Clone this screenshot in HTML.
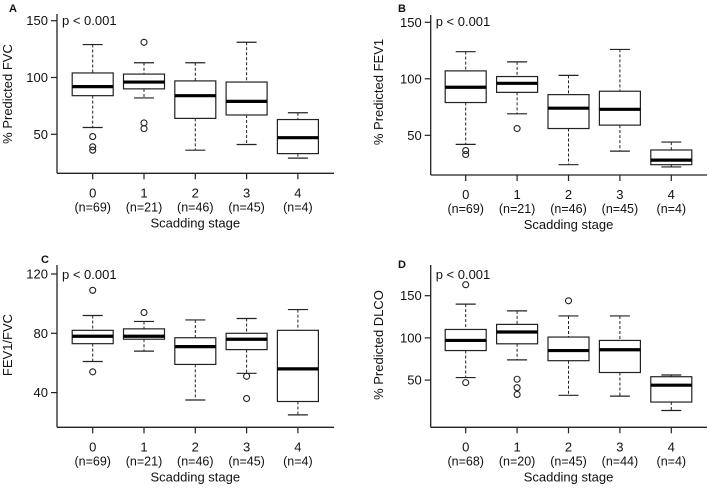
<!DOCTYPE html>
<html><head><meta charset="utf-8"><style>
html,body{margin:0;padding:0;background:#fff;width:709px;height:488px;overflow:hidden}
svg text{font-family:"Liberation Sans",Arial,sans-serif;fill:#111}
</style></head><body>
<svg id="chart" width="709" height="488" viewBox="0 0 709 488" xmlns="http://www.w3.org/2000/svg"></svg>
<script>
const categories = ["0","1","2","3","4"];
const nA = ["(n=69)","(n=21)","(n=46)","(n=45)","(n=4)"];
const nD = ["(n=68)","(n=20)","(n=45)","(n=44)","(n=4)"];
// [lowWhisker, Q1, median, Q3, highWhisker]
const statsA = [[56,84,92,104,129],[82,90,96,103,113],[36,64,84,97,113],[41,67,79,96,131],[29,33,47,63,69]];
const outliersA = [[48,39,36],[131,60,55],[],[],[]];
const statsB = [[42,79,92.5,107,124],[69,88,96,102,115],[24,56,74,86,103],[36,59,73,89,126],[22,24,28,37,44]];
const outliersB = [[36.5,33],[56],[],[],[]];
const statsC = [[61,73,78,82,92],[68,76,78,83,88],[35,59,71,77,89],[53,69,76,80,90],[25,34,56,82,96]];
const outliersC = [[109,54],[94],[],[51,36],[]];
const statsD = [[53,85,97,110,140],[74,93,107,116,132],[32,73,85,101,126],[31,59,86,97,126],[14,24,44,54,56]];
const outliersD = [[163,47],[51,41,33],[144],[],[]];
const ticksAB = [50,100,150];
const ticksC = [40,80,120];
const ticksD = [50,100,150];

const svg = document.getElementById('chart');
const NS = 'http://www.w3.org/2000/svg';
function mk(tag, attrs, parent){const e=document.createElementNS(NS,tag);for(const k in attrs)e.setAttribute(k,attrs[k]);(parent||svg).appendChild(e);return e;}

function panel(p){
  const g = mk('g',{});
  
  
  const y = v => p.y0 + (p.v0 - v) * p.k;
  const x = i => p.xs0 + i * p.dx;
  // axes
  const ya = mk('line',{x1:p.ax,x2:p.ax,y1:p.top,y2:p.bottom,stroke:'#222','stroke-width':1.3},g);
   
  const xa = mk('line',{x1:p.ax,x2:p.right,y1:p.bottom,y2:p.bottom,stroke:'#222','stroke-width':1.3},g);
   
  p.ticks.forEach(t=>{
    mk('line',{x1:p.ax-6,x2:p.ax,y1:y(t),y2:y(t),stroke:'#222','stroke-width':1.2},g);
    const tl = mk('text',{x:p.ax-9,y:y(t)+4.5,'text-anchor':'end','font-size':13},g);
    tl.textContent=t;
     
  });
  p.stats.forEach((s,i)=>{
    const cx = x(i), hw = 20.5, cw = 10;
    mk('line',{x1:cx,x2:cx,y1:p.bottom,y2:p.bottom+6,stroke:'#222','stroke-width':1.2},g);
    const c = mk('text',{x:cx,y:p.bottom+24,'text-anchor':'middle','font-size':13},g);
    c.textContent = categories[i];
     
    const n = mk('text',{x:cx,y:p.bottom+38,'text-anchor':'middle','font-size':12.5},g);
    n.textContent = p.n[i];
     
    const bg = mk('g',{},g);
    
    
    mk('line',{x1:cx,x2:cx,y1:y(s[4]),y2:y(s[3]),stroke:'#222','stroke-width':1,'stroke-dasharray':'3,2'},bg);
    mk('line',{x1:cx,x2:cx,y1:y(s[1]),y2:y(s[0]),stroke:'#222','stroke-width':1,'stroke-dasharray':'3,2'},bg);
    mk('line',{x1:cx-cw,x2:cx+cw,y1:y(s[4]),y2:y(s[4]),stroke:'#222','stroke-width':1.2},bg);
    mk('line',{x1:cx-cw,x2:cx+cw,y1:y(s[0]),y2:y(s[0]),stroke:'#222','stroke-width':1.2},bg);
    mk('rect',{x:cx-hw,y:y(s[3]),width:hw*2,height:y(s[1])-y(s[3]),fill:'#fff',stroke:'#222','stroke-width':1.2},bg);
    mk('line',{x1:cx-hw,x2:cx+hw,y1:y(s[2]),y2:y(s[2]),stroke:'#000','stroke-width':3.2},bg);
    p.out[i].forEach(o=>{
      const c2 = mk('circle',{cx:cx,cy:y(o),r:3,fill:'none',stroke:'#222','stroke-width':1.1},bg);
       
    });
  });
  const pv = mk('text',{x:p.ax+5,y:p.pY,'font-size':13},g);
  pv.textContent='p < 0.001';
   
  const xt = mk('text',{x:(p.xs0+x(4))/2,y:p.bottom+54,'text-anchor':'middle','font-size':13},g);
  xt.textContent='Scadding stage';
   
  const ytl = mk('text',{x:0,y:0,'text-anchor':'middle','font-size':13,transform:`translate(${p.ylx},${p.yly}) rotate(-90)`},g);
  ytl.textContent=p.ylabel;
   
  const lt = mk('text',{x:p.lx,y:p.ly,'font-size':11,'font-weight':'bold'},g);
  lt.textContent=p.letter;
   
}

panel({letter:'A',stats:statsA,out:outliersA,ticks:ticksAB,n:nA,v0:150,y0:20.7,k:56.8/50,ax:57,right:334,top:14,bottom:173.3,xs0:92.7,dx:51.3,pY:25,ylabel:'% Predicted FVC',ylx:12,yly:94,lx:9,ly:12});
panel({letter:'B',stats:statsB,out:outliersB,ticks:ticksAB,n:nA,v0:150,y0:22.3,k:56.5/50,ax:430.7,right:707,top:15,bottom:175,xs0:465.7,dx:51.4,pY:26,ylabel:'% Predicted FEV1',ylx:383,yly:92,lx:398,ly:12});
panel({letter:'C',stats:statsC,out:outliersC,ticks:ticksC,n:nA,v0:120,y0:274,k:59.3/40,ax:57,right:334,top:265,bottom:427.3,xs0:92.7,dx:51.3,pY:279,ylabel:'FEV1/FVC',ylx:12,yly:345,lx:41,ly:263});
panel({letter:'D',stats:statsD,out:outliersD,ticks:ticksD,n:nD,v0:150,y0:295.7,k:42.2/50,ax:430.7,right:707,top:265,bottom:427.3,xs0:465.7,dx:51.4,pY:279,ylabel:'% Predicted DLCO',ylx:383,yly:345,lx:398,ly:268});
</script>
</body></html>
